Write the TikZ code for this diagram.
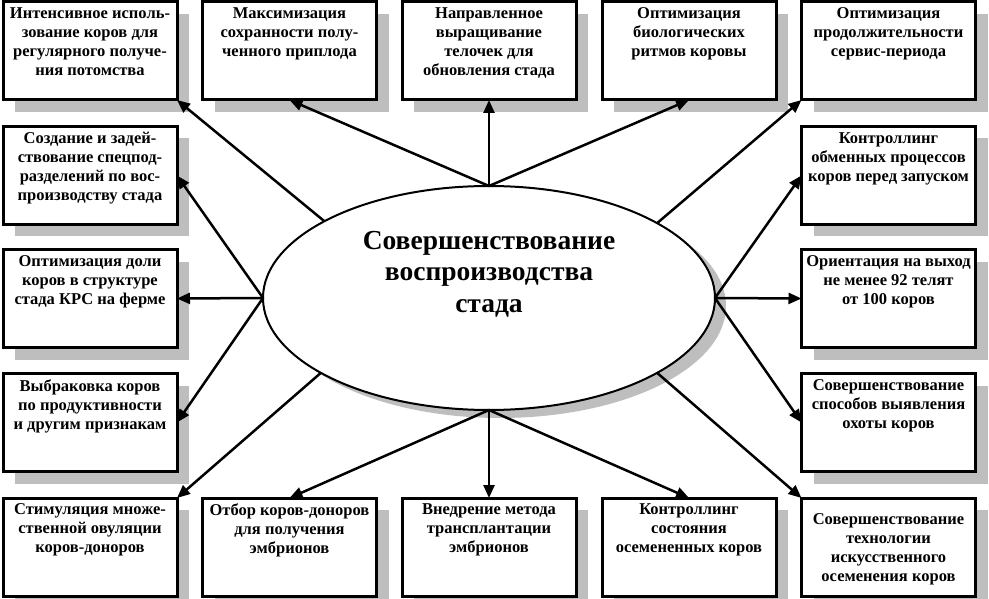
\documentclass[tikz,border=0pt]{standalone}
\usepackage{fontspec}
\setmainfont{Liberation Serif}
\usetikzlibrary{arrows.meta,shapes.geometric,shadows}
\definecolor{shadowgray}{HTML}{BEBEBE}
\newcommand{\boxtext}[1]{\parbox[t][86pt][t]{170pt}{\centering\bfseries\fontsize{16.5}{19}\selectfont #1}}
\begin{document}
\begin{tikzpicture}[x=1pt,y=-1pt,
  box/.style={draw, line width=3pt, fill=white, rectangle, inner xsep=2pt, inner ysep=6pt, outer sep=0pt,
    drop shadow={shadow xshift=12pt, shadow yshift=-12pt, fill=shadowgray, opacity=1}},
  arr/.style={line width=2.5pt, -{Triangle[length=13pt,width=11pt]}}]
\useasboundingbox (0,0) rectangle (989,599);
\clip (0,0) rectangle (989,599);
% top row
\node[box] (t1) at (90,51) {\boxtext{Интенсивное исполь-\\зование коров для\\регулярного получе-\\ния потомства}};
\node[box] (t2) at (289.5,51) {\boxtext{Максимизация\\сохранности полу-\\ченного приплода}};
\node[box] (t3) at (489,51) {\boxtext{Направленное\\выращивание\\телочек для\\обновления стада}};
\node[box] (t4) at (689,51) {\boxtext{Оптимизация\\биологических\\ритмов коровы}};
\node[box] (t5) at (888.5,51) {\boxtext{Оптимизация\\продолжительности\\сервис-периода}};
% left column
\node[box] (l2) at (90,175.5) {\boxtext{Создание и задей-\\ствование спецпод-\\разделений по вос-\\производству стада}};
\node[box] (l3) at (90,298.5) {\boxtext{Оптимизация доли\\коров в структуре\\стада КРС на ферме}};
\node[box] (l4) at (90,422.5) {\boxtext{Выбраковка коров\\по продуктивности\\и другим признакам}};
% right column
\node[box] (r2) at (888.5,175.5) {\boxtext{Контроллинг\\обменных процессов\\коров перед запуском}};
\node[box] (r3) at (888.5,298.5) {\boxtext{Ориентация на выход\\не менее 92 телят\\от 100 коров}};
\node[box] (r4) at (888.5,422.5) {\boxtext{Совершенствование\\способов выявления\\охоты коров}};
% bottom row
\node[box] (d1) at (90,547) {\boxtext{Стимуляция множе-\\ственной овуляции\\коров-доноров}};
\node[box] (d2) at (289.5,547) {\boxtext{Отбор коров-доноров\\для получения\\эмбрионов}};
\node[box] (d3) at (489,547) {\boxtext{Внедрение метода\\трансплантации\\эмбрионов}};
\node[box] (d4) at (689,547) {\boxtext{Контроллинг\\состояния\\осемененных коров}};
\node[box] (d5) at (888.5,547) {\boxtext{\vspace*{10pt}Совершенствование\\технологии\\искусственного\\осеменения коров}};
% centre
\node[ellipse, draw, line width=2pt, fill=white, minimum width=452pt, minimum height=224pt, inner sep=0pt, outer sep=0pt,
  drop shadow={shadow xshift=11pt, shadow yshift=-8pt, fill=shadowgray, opacity=1}] (ell) at (489,298) {};
\node[font=\bfseries\fontsize{27.5}{31.5}\selectfont, align=center] (title) at (489,274) {Совершенствование\\воспроизводства\\стада};
% connectors
\draw[arr] (ell.155.5) -- (t1.south east);
\draw[arr] (ell.north) -- (t2.south);
\draw[arr] (ell.north) -- (t3.south);
\draw[arr] (ell.north) -- (t4.south);
\draw[arr] (ell.24.5) -- (t5.south west);
\draw[arr] (ell.west) -- (l2.east);
\draw[arr] (ell.west) -- (l3.east);
\draw[arr] (ell.west) -- (l4.east);
\draw[arr] (ell.east) -- (r2.west);
\draw[arr] (ell.east) -- (r3.west);
\draw[arr] (ell.east) -- (r4.west);
\draw[arr] (ell.204.5) -- (d1.north east);
\draw[arr] (ell.south) -- (d2.north);
\draw[arr] (ell.south) -- (d3.north);
\draw[arr] (ell.south) -- (d4.north);
\draw[arr] (ell.-24.5) -- (d5.north west);
\end{tikzpicture}
\end{document}
